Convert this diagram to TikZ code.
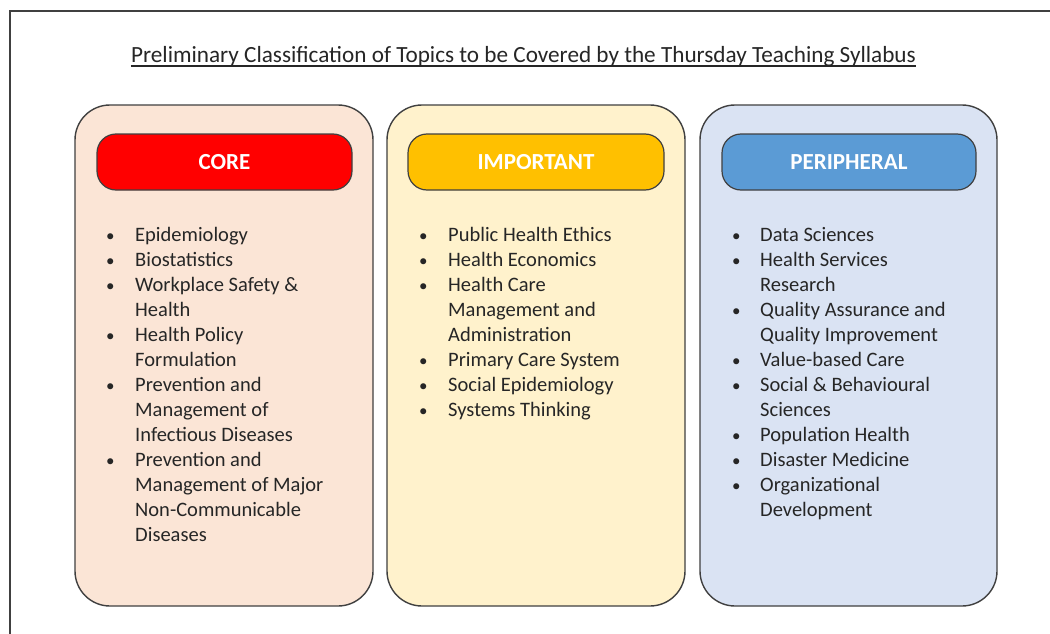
\documentclass[tikz,border=0pt]{standalone}
\usepackage{fontspec}
\setmainfont{Carlito}
\definecolor{inkgray}{HTML}{262626}
\definecolor{edgegray}{HTML}{404040}
\definecolor{corefill}{HTML}{FBE5D6}
\definecolor{impfill}{HTML}{FFF2CC}
\definecolor{perifill}{HTML}{DAE3F3}
\definecolor{corehead}{HTML}{FF0000}
\definecolor{imphead}{HTML}{FFC000}
\definecolor{perihead}{HTML}{5B9BD5}
% one bulleted item, and one continuation line of an item
\newcommand{\bitem}[1]{{\fontsize{17}{25}\selectfont\textbullet} & #1\\}
\newcommand{\bcont}[1]{ & #1\\}
\begin{document}
\begin{tikzpicture}[x=1pt,y=-1pt,
  frame/.style={draw=edgegray, line width=1.5pt},
  panel/.style={draw=edgegray, line width=1.4pt, rounded corners=35pt,
    minimum width=298pt, minimum height=501pt, inner sep=0pt},
  header/.style={draw=edgegray, line width=1.2pt, rounded corners=19pt,
    minimum width=255pt, minimum height=56pt, inner sep=0pt,
    text=white, font=\fontsize{23}{27}\selectfont\bfseries},
  itemlist/.style={inner sep=0pt, anchor=base west, text=inkgray,
    font=\fontsize{20.5}{25}\selectfont},
  title/.style={inner sep=0pt, anchor=base, text=inkgray,
    font=\fontsize{23.2}{27}\selectfont},
  uline/.style={draw=inkgray, line width=1.2pt}]
\useasboundingbox (0,0) rectangle (1050,634);
\clip (0,0) rectangle (1050,634);
\fill[white] (0,0) rectangle (1050,634);
% page frame, running off the right and bottom
\draw[frame] (10,11) rectangle (1080,660);

% title with its underline
\node[title] (title) at (523.5,63)
  {Preliminary Classification of Topics to be Covered by the Thursday Teaching Syllabus};
\draw[uline] ([yshift=-3pt]title.base west) -- ([yshift=-3pt]title.base east);

% three category panels
\node[panel, fill=corefill] (core) at (224,355.5) {};
\node[panel, fill=impfill] (important) at (536,355.5) {};
\node[panel, fill=perifill, minimum width=297pt] (peripheral) at (848.5,355.5) {};

% category headers
\node[header, fill=corehead] (core-head) at (224.5,162) {CORE};
\node[header, fill=imphead, minimum width=256pt] (important-head) at (536,162) {IMPORTANT};
\node[header, fill=perihead, minimum width=254pt] (peripheral-head) at (849,162) {PERIPHERAL};

% topic lists
\node[itemlist] (core-list) at (106,241) {\begin{tabular}[t]{@{}p{29pt}@{}l@{}}
\bitem{Epidemiology}
\bitem{Biostatistics}
\bitem{Workplace Safety \&}
\bcont{Health}
\bitem{Health Policy}
\bcont{Formulation}
\bitem{Prevention and}
\bcont{Management of}
\bcont{Infectious Diseases}
\bitem{Prevention and}
\bcont{Management of Major}
\bcont{Non-Communicable}
\bcont{Diseases}
\end{tabular}};

\node[itemlist] (important-list) at (419,241) {\begin{tabular}[t]{@{}p{29pt}@{}l@{}}
\bitem{Public Health Ethics}
\bitem{Health Economics}
\bitem{Health Care}
\bcont{Management and}
\bcont{Administration}
\bitem{Primary Care System}
\bitem{Social Epidemiology}
\bitem{Systems Thinking}
\end{tabular}};

\node[itemlist] (peripheral-list) at (732,241) {\begin{tabular}[t]{@{}p{28pt}@{}l@{}}
\bitem{Data Sciences}
\bitem{Health Services}
\bcont{Research}
\bitem{Quality Assurance and}
\bcont{Quality Improvement}
\bitem{Value-based Care}
\bitem{Social \& Behavioural}
\bcont{Sciences}
\bitem{Population Health}
\bitem{Disaster Medicine}
\bitem{Organizational}
\bcont{Development}
\end{tabular}};
\end{tikzpicture}
\end{document}
